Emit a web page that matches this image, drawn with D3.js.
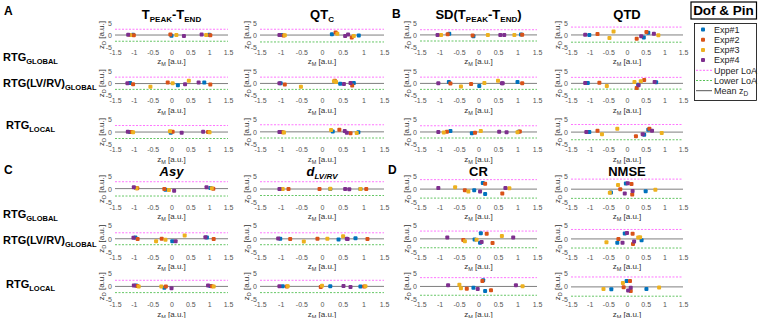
<!DOCTYPE html>
<html>
<head>
<meta charset="utf-8">
<title>Bland-Altman z-score panels</title>
<style>
  body { margin: 0; background: #fff; }
  svg { display: block; font-family: Arial, "Liberation Sans", sans-serif; }
</style>
</head>
<body>
<div id="chart"></div>
<script src="https://d3js.org/d3.v7.min.js"></script>
<script>
const experiments = ["Exp#1", "Exp#2", "Exp#3", "Exp#4"];
const expColors = ["#0072BD", "#D95319", "#EDB120", "#7E2F8E"];
const xTicks = [-1.5, -1, -0.5, 0, 0.5, 1, 1.5];
const yTicks = [-5, 0, 5];
const methodLabels = [["RTG", "GLOBAL"], ["RTG(LV/RV)", "GLOBAL"], ["RTG", "LOCAL"]];

// each metric: 3 method rows, each row = [Exp#1..Exp#4], each exp = list of [zM, zD]
const tpeakTend = [
  [[[-1.02, 0.1], [0.0, -0.3], [1.0, 0.1]], [[-1.0, -0.1], [-0.03, 0.2], [1.03, -0.1]],
   [[-1.1, 0.05], [0.13, 0.0], [0.92, 0.0]], [[-1.15, 0.1], [0.33, -0.4], [0.8, 0.2]]],
  [[[-1.1, 0.1], [0.17, -0.8], [0.87, 0.3]], [[-1.02, -0.4], [-0.1, 0.3], [1.03, -0.5]],
   [[-0.56, -1.4], [0.03, 0.0], [0.46, 1.0]], [[-1.17, 0.0], [0.36, -0.4], [0.72, 0.3]]],
  [[[-1.1, 0.05], [-0.02, -0.3], [0.99, 0.0]], [[-1.06, 0.0], [0.03, 0.1], [0.97, 0.0]],
   [[-1.02, -0.1], [-0.04, 0.3], [1.01, -0.1]], [[-1.16, 0.1], [0.27, -0.3], [0.84, 0.1]]]
];
const qtc = [
  [[[-0.98, 0.0], [0.24, 0.3], [0.89, -0.2]], [[-0.93, -0.2], [0.33, 1.0], [0.72, -1.0]],
   [[-0.9, -0.1], [0.37, 0.5], [0.77, -0.4]], [[-1.03, 0.0], [0.56, -0.4], [0.63, 0.2]]],
  [[[-1.0, 0.0], [0.44, -0.2], [0.77, 0.1]], [[-0.9, -0.5], [0.31, 1.0], [0.73, -0.9]],
   [[-0.51, -1.4], [0.34, 0.5], [0.29, 0.8]], [[-1.03, 0.0], [0.53, -0.3], [0.69, 0.1]]],
  [[[-0.99, 0.0], [0.26, 0.2], [0.88, -0.1]], [[-0.95, -0.1], [0.42, 0.9], [0.69, -0.5]],
   [[-0.92, -0.2], [0.22, 0.8], [0.84, -0.4]], [[-1.03, 0.0], [0.55, 0.4], [0.6, -0.3]]]
];
const sdTpeakTend = [
  [[[-0.75, 0.5], [-0.13, -0.5], [1.09, 0.2]], [[-0.79, 0.3], [-0.15, -0.2], [1.12, 0.1]],
   [[-0.96, 0.0], [0.24, 0.0], [0.92, 0.0]], [[-1.05, 0.0], [0.56, 0.0], [0.66, 0.0]]],
  [[[-0.76, 0.5], [0.02, -1.1], [1.0, 0.5]], [[-0.72, -0.1], [-0.19, -0.3], [1.12, 0.0]],
   [[-0.45, -1.3], [0.15, 0.1], [0.5, 1.0]], [[-1.03, 0.0], [0.6, 0.0], [0.62, 0.0]]],
  [[[-0.72, 0.4], [-0.17, -0.5], [1.03, 0.1]], [[-0.81, 0.1], [-0.09, -0.3], [1.06, 0.2]],
   [[-0.89, -0.2], [0.06, 0.4], [1.0, -0.1]], [[-1.03, 0.0], [0.53, 0.1], [0.72, -0.1]]]
];
const qtd = [
  [[[-1.01, 0.0], [0.45, -1.0], [0.57, 0.9]], [[-0.79, 0.4], [0.26, -1.6], [0.52, 1.3]],
   [[-0.47, -1.3], [-0.36, 1.5], [0.84, -0.1]], [[-1.12, 0.1], [0.38, -0.5], [0.72, 0.5]]],
  [[[-1.05, 0.1], [0.3, -0.6], [0.78, 0.4]], [[-0.74, 0.2], [0.26, -1.9], [0.46, 1.3]],
   [[-0.54, -1.1], [0.2, 0.5], [0.37, 0.8]], [[-1.12, 0.1], [0.31, -0.8], [0.74, 0.5]]],
  [[[-1.01, 0.0], [0.46, -1.1], [0.57, 0.9]], [[-0.79, 0.5], [0.24, -1.7], [0.6, 1.3]],
   [[-0.67, -0.9], [-0.26, 1.3], [0.93, -0.4]], [[-1.09, 0.0], [0.42, -0.9], [0.67, 0.5]]]
];
const asy = [
  [[[-0.94, 0.4], [-0.16, -0.3], [1.03, 0.4]], [[-0.91, 0.3], [-0.19, 0.0], [1.11, 0.1]],
   [[-0.93, 0.3], [-0.07, -0.4], [1.07, 0.3]], [[-1.0, 0.7], [0.07, -0.7], [0.93, 0.7]]],
  [[[-0.96, 0.5], [0.02, -0.9], [0.94, 0.5]], [[-0.9, -0.1], [-0.26, 0.0], [1.12, -0.1]],
   [[-0.41, -0.9], [-0.16, -0.4], [0.35, 1.25]], [[-1.01, 0.4], [0.11, -0.9], [0.9, 0.6]]],
  [[[-0.94, 0.3], [-0.19, -0.6], [1.03, 0.1]], [[-0.91, 0.1], [-0.15, -0.1], [1.07, 0.0]],
   [[-0.87, -0.1], [-0.27, -0.1], [1.12, -0.1]], [[-1.0, 0.25], [0.0, -0.75], [0.97, 0.25]]]
];
const dLvRv = [
  [[[-1.0, 0.0], [0.2, 0.0], [0.93, 0.0]], [[-0.81, 0.0], [-0.06, 0.0], [1.07, 0.0]],
   [[-0.95, 0.0], [0.2, 0.05], [0.93, 0.0]], [[-1.03, 0.0], [0.56, 0.0], [0.66, -0.05]]],
  [[[-1.01, 0.0], [0.4, -0.25], [0.81, 0.2]], [[-0.77, -0.1], [-0.11, 0.0], [1.1, -0.1]],
   [[-0.44, -1.0], [0.13, 0.0], [0.51, 0.9]], [[-1.06, 0.05], [0.62, -0.1], [0.6, 0.0]]],
  [[[-0.95, 0.0], [0.2, 0.0], [0.93, -0.1]], [[-0.85, -0.1], [-0.03, -0.3], [1.02, -0.1]],
   [[-0.83, 0.0], [0.0, 0.2], [1.05, 0.0]], [[-1.03, 0.0], [0.52, 0.1], [0.69, -0.3]]]
];
const cr = [
  [[[-0.11, -0.5], [0.11, 2.3], [0.17, -1.9]], [[-0.35, -0.5], [0.17, 2.0], [0.61, -1.7]],
   [[-0.6, 0.7], [-0.26, -1.0], [0.79, 0.3]], [[-1.03, 0.4], [0.04, -1.0], [0.69, 0.4]]],
  [[[0.06, 2.1], [0.04, -1.5], [-0.1, -0.3]], [[-0.39, -0.5], [0.21, 1.9], [0.36, -1.6]],
   [[-0.35, -0.9], [-0.05, -0.4], [0.6, 1.0]], [[-0.8, 0.5], [0.08, -1.25], [0.89, 0.5]]],
  [[[-0.13, -0.6], [0.12, 2.25], [0.17, -1.75]], [[-0.3, -0.9], [0.1, 2.0], [0.32, -1.5]],
   [[-0.49, 0.6], [-0.45, -0.75], [1.13, 0.0]], [[-0.78, 0.4], [-0.02, -1.0], [0.96, 0.4]]]
];
const nmse = [
  [[[-0.43, -1.3], [-0.03, 2.1], [0.5, -0.9]], [[-0.18, -0.1], [0.12, 1.9], [0.14, -2.1]],
   [[-0.46, -1.4], [-0.24, 1.5], [0.76, -0.25]], [[-0.06, -1.7], [0.02, 2.2], [0.15, -0.8]]],
  [[[-0.26, -1.5], [-0.06, 2.0], [0.39, -0.6]], [[-0.23, -0.1], [0.15, 1.9], [0.16, -2.0]],
   [[-0.55, -1.3], [0.3, 0.5], [0.35, 0.6]], [[-0.12, -1.5], [0.0, 2.2], [0.19, -1.0]]],
  [[[-0.42, -1.1], [-0.01, 2.0], [0.52, -1.0]], [[-0.09, -0.4], [0.08, 2.0], [0.1, -1.75]],
   [[-0.63, -1.0], [-0.11, 1.25], [0.86, -0.5]], [[0.03, -1.6], [0.1, -0.6]]]
];

// limits of agreement, one per panel (6 rows x 4 columns)
const upperLoA = [[2.4, 2.4, 2.2, 3.3], [2.5, 2.5, 2.5, 2.4], [2.6, 2.9, 2.5, 3.0],
                  [2.8, 2.8, 3.6, 3.8], [2.25, 2.25, 2.9, 3.5], [2.25, 2.25, 3.25, 3.5]];
const lowerLoA = [[-2.6, -2.9, -2.5, -3.0], [-2.5, -2.5, -2.5, -2.4], [-2.6, -2.4, -2.4, -3.1],
                  [-2.7, -2.5, -3.5, -3.6], [-2.25, -2.25, -3.4, -3.5], [-2.4, -2.4, -3.4, -3.75]];

const W = 758, H = 318;
const svg = d3.select("#chart").append("svg").attr("width", W).attr("height", H);

const colX = [[115, 228], [260, 384], [420, 537], [571, 683]];
const rowY = [[23, 47], [71, 95.5], [119.5, 144.5], [176, 202], [225.5, 252], [273, 299.5]];

const upperColor = "#ff66ff", lowerColor = "#55c055", meanColor = "#7f7f7f";

// text made of [string, isSubscript] pieces
function rich(sel, parts, size, subSize, drop) {
  let down = false;
  parts.forEach(([s, sub]) => {
    const t = sel.append("tspan").text(s);
    if (sub && !down) { t.attr("dy", drop); down = true; }
    else if (!sub && down) { t.attr("dy", -drop); down = false; }
    t.attr("font-size", sub ? subSize : size);
  });
  return sel;
}

function drawPanel(rows, r, c) {
  const x = d3.scaleLinear().domain([-1.5, 1.5]).range(colX[c]);
  const y = d3.scaleLinear().domain([-5, 5]).range([rowY[r][1], rowY[r][0]]);
  const g = svg.append("g");

  const xa = g.append("g").attr("transform", `translate(0,${y(-5)})`)
    .call(d3.axisBottom(x).tickValues(xTicks).tickSize(0).tickPadding(3).tickFormat(d => String(d)));
  const ya = g.append("g").attr("transform", `translate(${x(-1.5)},0)`)
    .call(d3.axisLeft(y).tickValues(yTicks).tickSize(0).tickPadding(3).tickFormat(d => String(d)));
  [xa, ya].forEach(a => {
    a.select(".domain").remove();
    a.selectAll("text").attr("font-size", 7).attr("fill", "#555").attr("font-family", "Arial, 'Liberation Sans', sans-serif");
  });

  const pts = rows[r % 3];
  const allD = pts.flat().map(p => p[1]);
  const meanD = d3.mean(allD);

  const lines = [
    { v: upperLoA[r][c], col: upperColor, dash: "2,1.5" },
    { v: lowerLoA[r][c], col: lowerColor, dash: "2,1.5" },
    { v: meanD, col: meanColor, dash: null }
  ];
  g.selectAll("line.ref").data(lines).join("line")
    .attr("x1", x(-1.5)).attr("x2", x(1.5))
    .attr("y1", d => y(d.v)).attr("y2", d => y(d.v))
    .attr("stroke", d => d.col).attr("stroke-width", d => d.dash ? 0.9 : 1)
    .attr("stroke-dasharray", d => d.dash);

  const flat = pts.flatMap((list, e) => list.map(p => ({ e, zm: p[0], zd: p[1] })));
  g.selectAll("rect.pt").data(flat).join("rect")
    .attr("x", d => x(d.zm) - 2).attr("y", d => y(d.zd) - 2)
    .attr("width", 4).attr("height", 4).attr("rx", 1)
    .attr("fill", d => expColors[d.e]);

  const xl = g.append("text").attr("x", (x(-1.5) + x(1.5)) / 2).attr("y", y(-5) + 17)
    .attr("text-anchor", "middle").attr("fill", "#333");
  rich(xl, [["z", false], ["M", true], [" [a.u.]", false]], 8, 5.5, 2);

  const yl = g.append("text")
    .attr("transform", `translate(${x(-1.5) - 11},${(y(5) + y(-5)) / 2}) rotate(-90)`)
    .attr("text-anchor", "middle").attr("fill", "#333");
  rich(yl, [["z", false], ["D", true], [" [a.u.]", false]], 8, 5.5, 2);
}

const topMetrics = [tpeakTend, qtc, sdTpeakTend, qtd];
const bottomMetrics = [asy, dLvRv, cr, nmse];
for (let r = 0; r < 6; r++) {
  for (let c = 0; c < 4; c++) {
    drawPanel(r < 3 ? topMetrics[c] : bottomMetrics[c], r, c);
  }
}

// column titles
const titleSpecs = [
  { c: 0, yb: 19, parts: [["T", false], ["PEAK", true], ["-T", false], ["END", true]], italic: false },
  { c: 1, yb: 19, parts: [["QT", false], ["C", true]], italic: false },
  { c: 2, yb: 19, parts: [["SD(T", false], ["PEAK", true], ["-T", false], ["END", true], [")", false]], italic: false },
  { c: 3, yb: 19, parts: [["QTD", false]], italic: false },
  { c: 0, yb: 176, parts: [["Asy", false]], italic: true },
  { c: 1, yb: 176, parts: [["d", false], ["LV/RV", true]], italic: true },
  { c: 2, yb: 176, parts: [["CR", false]], italic: false },
  { c: 3, yb: 176, parts: [["NMSE", false]], italic: false }
];
titleSpecs.forEach(t => {
  const tx = svg.append("text").attr("x", (colX[t.c][0] + colX[t.c][1]) / 2).attr("y", t.yb)
    .attr("text-anchor", "middle").attr("font-weight", "bold")
    .attr("font-style", t.italic ? "italic" : "normal").attr("fill", "#000");
  rich(tx, t.parts, 13, 8, 2.5);
});

// panel letters
[["A", 4, 15], ["B", 392, 18], ["C", 4, 174], ["D", 388, 174]].forEach(([s, lx, ly]) => {
  svg.append("text").attr("x", lx).attr("y", ly).attr("font-size", 12)
    .attr("font-weight", "bold").attr("fill", "#000").text(s);
});

// method row labels
const rowLabelPos = [[3, 61], [3, 87], [6, 129], [3, 218], [3, 244], [6, 288]];
rowLabelPos.forEach(([lx, ly], i) => {
  const m = methodLabels[i % 3];
  const t = svg.append("text").attr("x", lx).attr("y", ly).attr("font-weight", "bold").attr("fill", "#000");
  rich(t, [[m[0], false], [m[1], true]], 11, 7.5, 3);
});

// title box
svg.append("rect").attr("x", 691).attr("y", 2).attr("width", 65.5).attr("height", 17)
  .attr("fill", "#fff").attr("stroke", "#000").attr("stroke-width", 1.2);
svg.append("text").attr("x", 723.5).attr("y", 15).attr("text-anchor", "middle")
  .attr("font-size", 13.5).attr("font-weight", "bold").text("Dof & Pin");

// legend
const legend = svg.append("g");
legend.append("rect").attr("x", 694.5).attr("y", 23.5).attr("width", 62).attr("height", 77)
  .attr("fill", "#fff").attr("stroke", "#000").attr("stroke-width", 0.8);
const legItems = experiments.map((name, i) => ({ kind: "pt", col: expColors[i], parts: [[name, false]] }))
  .concat([
    { kind: "dash", col: upperColor, parts: [["Upper LoA", false]] },
    { kind: "dash", col: lowerColor, parts: [["Lower LoA", false]] },
    { kind: "line", col: meanColor, parts: [["Mean z", false], ["D", true]] }
  ]);
legItems.forEach((d, i) => {
  const ly = 29.5 + i * 10.2;
  if (d.kind === "pt") {
    legend.append("rect").attr("x", 701).attr("y", ly - 2).attr("width", 4).attr("height", 4)
      .attr("rx", 1).attr("fill", d.col);
  } else {
    legend.append("line").attr("x1", 696).attr("x2", 712).attr("y1", ly).attr("y2", ly)
      .attr("stroke", d.kind === "line" ? "#555" : d.col).attr("stroke-width", 1)
      .attr("stroke-dasharray", d.kind === "dash" ? "2,1.5" : null);
  }
  const t = legend.append("text").attr("x", 714).attr("y", ly + 3.2).attr("fill", "#262626");
  rich(t, d.parts, 9, 6.5, 2);
});
</script>
</body>
</html>
